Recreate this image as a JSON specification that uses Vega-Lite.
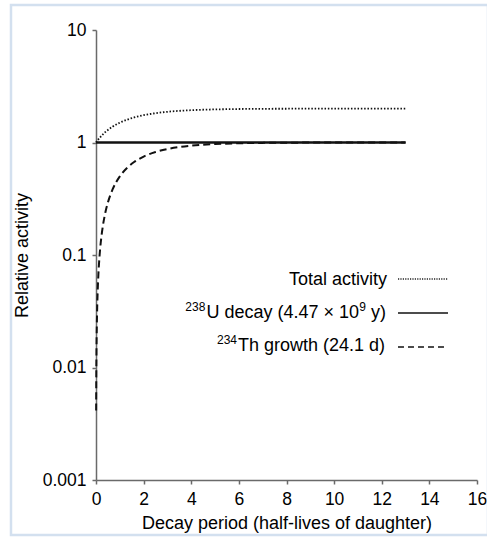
{
  "$schema": "https://vega.github.io/schema/vega-lite/v6.json",
  "width": 381,
  "height": 450,
  "autosize": {"type": "none"},
  "padding": {"left": 96, "top": 30, "right": 10, "bottom": 59},
  "background": "white",
  "config": {
    "view": {"stroke": null},
    "font": "Liberation Sans",
    "axis": {
      "grid": false,
      "labelFlush": false,
      "domainColor": "#6a6a6a",
      "domainWidth": 1.5,
      "tickColor": "#6a6a6a",
      "tickWidth": 1.5,
      "tickSize": 4,
      "labelFont": "Liberation Sans",
      "labelFontSize": 17.5,
      "labelColor": "#000000",
      "titleFont": "Liberation Sans",
      "titleFontSize": 18,
      "titleFontWeight": "normal",
      "titleColor": "#000000"
    }
  },
  "datasets": {
    "curves": [
      {"t": 0, "series": "U", "v": 1},
      {"t": 13, "series": "U", "v": 1},
      {"t": 0, "series": "Total", "v": 1},
      {"t": 0.006, "series": "Total", "v": 1.00415},
      {"t": 0.01, "series": "Total", "v": 1.006907},
      {"t": 0.02, "series": "Total", "v": 1.013767},
      {"t": 0.035, "series": "Total", "v": 1.023968},
      {"t": 0.05, "series": "Total", "v": 1.034064},
      {"t": 0.075, "series": "Total", "v": 1.050658},
      {"t": 0.1, "series": "Total", "v": 1.066967},
      {"t": 0.15, "series": "Total", "v": 1.09875},
      {"t": 0.2, "series": "Total", "v": 1.129449},
      {"t": 0.3, "series": "Total", "v": 1.187748},
      {"t": 0.4, "series": "Total", "v": 1.242142},
      {"t": 0.5, "series": "Total", "v": 1.292893},
      {"t": 0.7, "series": "Total", "v": 1.384428},
      {"t": 1, "series": "Total", "v": 1.5},
      {"t": 1.3, "series": "Total", "v": 1.593874},
      {"t": 1.6, "series": "Total", "v": 1.670123},
      {"t": 2, "series": "Total", "v": 1.75},
      {"t": 2.5, "series": "Total", "v": 1.823223},
      {"t": 3, "series": "Total", "v": 1.875},
      {"t": 3.5, "series": "Total", "v": 1.911612},
      {"t": 4, "series": "Total", "v": 1.9375},
      {"t": 5, "series": "Total", "v": 1.96875},
      {"t": 6, "series": "Total", "v": 1.984375},
      {"t": 7, "series": "Total", "v": 1.992188},
      {"t": 8, "series": "Total", "v": 1.996094},
      {"t": 9, "series": "Total", "v": 1.998047},
      {"t": 10, "series": "Total", "v": 1.999023},
      {"t": 11, "series": "Total", "v": 1.999512},
      {"t": 12, "series": "Total", "v": 1.999756},
      {"t": 13, "series": "Total", "v": 1.999878},
      {"t": 0.006, "series": "Th", "v": 0.00415},
      {"t": 0.01, "series": "Th", "v": 0.006907},
      {"t": 0.02, "series": "Th", "v": 0.013767},
      {"t": 0.035, "series": "Th", "v": 0.023968},
      {"t": 0.05, "series": "Th", "v": 0.034064},
      {"t": 0.075, "series": "Th", "v": 0.050658},
      {"t": 0.1, "series": "Th", "v": 0.066967},
      {"t": 0.15, "series": "Th", "v": 0.09875},
      {"t": 0.2, "series": "Th", "v": 0.129449},
      {"t": 0.3, "series": "Th", "v": 0.187748},
      {"t": 0.4, "series": "Th", "v": 0.242142},
      {"t": 0.5, "series": "Th", "v": 0.292893},
      {"t": 0.7, "series": "Th", "v": 0.384428},
      {"t": 1, "series": "Th", "v": 0.5},
      {"t": 1.3, "series": "Th", "v": 0.593874},
      {"t": 1.6, "series": "Th", "v": 0.670123},
      {"t": 2, "series": "Th", "v": 0.75},
      {"t": 2.5, "series": "Th", "v": 0.823223},
      {"t": 3, "series": "Th", "v": 0.875},
      {"t": 3.5, "series": "Th", "v": 0.911612},
      {"t": 4, "series": "Th", "v": 0.9375},
      {"t": 5, "series": "Th", "v": 0.96875},
      {"t": 6, "series": "Th", "v": 0.984375},
      {"t": 7, "series": "Th", "v": 0.992188},
      {"t": 8, "series": "Th", "v": 0.996094},
      {"t": 9, "series": "Th", "v": 0.998047},
      {"t": 10, "series": "Th", "v": 0.999023},
      {"t": 11, "series": "Th", "v": 0.999512},
      {"t": 12, "series": "Th", "v": 0.999756},
      {"t": 13, "series": "Th", "v": 0.999878}
    ],
    "gridlines": [{"v": 0.01}, {"v": 0.1}, {"v": 1}],
    "border": [{"t": -3.57, "t2": 16.462, "v": 16.68, "v2": 0.0003244}],
    "samples": [
      {"series": "Total", "t": 12.682, "t2": 14.782, "v": 0.06117},
      {"series": "U", "t": 12.682, "t2": 14.782, "v": 0.03051},
      {"series": "Th", "t": 12.682, "t2": 14.782, "v": 0.01521}
    ],
    "labels": [
      {"kind": "main", "t": 12.221, "v": 0.05357, "label": "Total activity"},
      {"kind": "main", "t": 12.178, "v": 0.02727, "label": "y)"},
      {"kind": "main", "t": 11.045, "v": 0.02727, "label": "U decay (4.47 × 10"},
      {"kind": "main", "t": 12.137, "v": 0.01401, "label": "Th growth (24.1 d)"},
      {"kind": "sup", "t": 11.339, "v": 0.03178, "label": "9"},
      {"kind": "sup", "t": 4.594, "v": 0.03178, "label": "238"},
      {"kind": "sup", "t": 5.921, "v": 0.01634, "label": "234"}
    ]
  },
  "encoding": {
    "x": {
      "field": "t",
      "type": "quantitative",
      "scale": {"domain": [0, 16], "nice": false, "zero": false},
      "axis": {
        "title": "Decay period (half-lives of daughter)",
        "values": [0, 2, 4, 6, 8, 10, 12, 14, 16],
        "format": "d",
        "labelPadding": 6,
        "titlePadding": 7
      }
    },
    "y": {
      "field": "v",
      "type": "quantitative",
      "scale": {"type": "log", "domain": [0.001, 10], "nice": false},
      "axis": {
        "title": "Relative activity",
        "values": [0.001, 0.01, 0.1, 1, 10],
        "format": "~g",
        "labelPadding": 6,
        "titlePadding": 11
      }
    }
  },
  "layer": [
    {
      "data": {"name": "border"},
      "mark": {"type": "rect", "fill": "#ffffff", "fillOpacity": 0, "stroke": "#d3e0ef", "strokeOpacity": 1, "strokeWidth": 2.5},
      "encoding": {"x2": {"field": "t2"}, "y2": {"field": "v2"}}
    },
    {
      "data": {"name": "gridlines"},
      "mark": {"type": "rule", "color": "#9c9c9c", "strokeWidth": 1.5},
      "encoding": {"x": {"datum": 0}, "x2": {"datum": 16}}
    },
    {
      "data": {"name": "curves"},
      "transform": [{"filter": "datum.series === 'Total'"}],
      "mark": {"type": "line", "color": "#111111", "strokeWidth": 1.8, "strokeDash": [1.5, 1.8], "interpolate": "monotone"}
    },
    {
      "data": {"name": "curves"},
      "transform": [{"filter": "datum.series === 'Th'"}],
      "mark": {"type": "line", "color": "#111111", "strokeWidth": 2, "strokeDash": [7, 4], "interpolate": "monotone"}
    },
    {
      "data": {"name": "curves"},
      "transform": [{"filter": "datum.series === 'U'"}],
      "mark": {"type": "line", "color": "#111111", "strokeWidth": 2.5}
    },
    {
      "data": {"name": "samples"},
      "transform": [{"filter": "datum.series === 'Total'"}],
      "mark": {"type": "rule", "color": "#222222", "strokeWidth": 1.3, "strokeDash": [1.2, 1.2]},
      "encoding": {"x2": {"field": "t2"}}
    },
    {
      "data": {"name": "samples"},
      "transform": [{"filter": "datum.series === 'U'"}],
      "mark": {"type": "rule", "color": "#111111", "strokeWidth": 1.5},
      "encoding": {"x2": {"field": "t2"}}
    },
    {
      "data": {"name": "samples"},
      "transform": [{"filter": "datum.series === 'Th'"}],
      "mark": {"type": "rule", "color": "#111111", "strokeWidth": 1.5, "strokeDash": [6, 4]},
      "encoding": {"x2": {"field": "t2"}}
    },
    {
      "data": {"name": "labels"},
      "transform": [{"filter": "datum.kind === 'main'"}],
      "mark": {"type": "text", "align": "right", "baseline": "alphabetic", "fontSize": 18, "font": "Liberation Sans", "color": "#000000"},
      "encoding": {"text": {"field": "label"}}
    },
    {
      "data": {"name": "labels"},
      "transform": [{"filter": "datum.kind === 'sup'"}],
      "mark": {"type": "text", "align": "right", "baseline": "alphabetic", "fontSize": 12, "font": "Liberation Sans", "color": "#000000"},
      "encoding": {"text": {"field": "label"}}
    }
  ]
}
